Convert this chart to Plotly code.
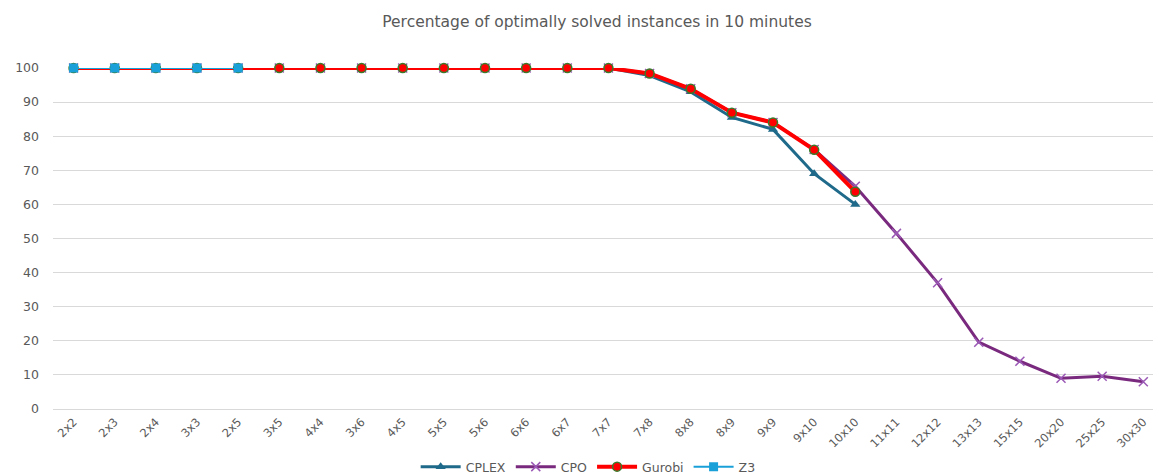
import plotly.graph_objects as go

cats = ["2x2", "2x3", "2x4", "3x3", "2x5", "3x5", "4x4", "3x6", "4x5", "5x5",
        "5x6", "6x6", "6x7", "7x7", "7x8", "8x8", "8x9", "9x9", "9x10", "10x10",
        "11x11", "12x12", "13x13", "15x15", "20x20", "25x25", "30x30"]

cplex = [100, 100, 100, 100, 100, 100, 100, 100, 100, 100, 100, 100, 100, 100,
         97.8, 93.0, 85.5, 82.0, 69.0, 60.0]
cpo = [100, 100, 100, 100, 100, 100, 100, 100, 100, 100, 100, 100, 100, 100,
       98.4, 93.9, 86.9, 84.0, 76.1, 65.3, 51.5, 37.0, 19.6, 14.0, 9.0, 9.6, 8.0]
gurobi = [100, 100, 100, 100, 100, 100, 100, 100, 100, 100, 100, 100, 100, 100,
          98.4, 93.9, 86.9, 84.0, 76.0, 63.7]
z3 = [100, 100, 100, 100, 100]

FONT = "DejaVu Sans, Verdana, sans-serif"
GRAY = "#595959"
W, H = 1153, 468  # page has an 8px body margin

fig = go.Figure()
fig.add_trace(go.Scatter(
    x=cats[:len(cplex)], y=cplex, name="CPLEX", mode="lines+markers",
    line=dict(color="#1F6A8A", width=3),
    marker=dict(symbol="triangle-up", size=9, color="#1F6A8A")))
fig.add_trace(go.Scatter(
    x=cats[:len(cpo)], y=cpo, name="CPO", mode="lines+markers",
    line=dict(color="#7A2A7E", width=3),
    marker=dict(symbol="x-thin", size=9, line=dict(color="#9B59B6", width=1.5), color="#7A2A7E")))
fig.add_trace(go.Scatter(
    x=cats[:len(gurobi)], y=gurobi, name="Gurobi", mode="lines+markers",
    line=dict(color="#FF0000", width=4),
    marker=dict(symbol="circle", size=9, color="#FF0000", line=dict(color="#3A7A2A", width=1.5))))
fig.add_trace(go.Scatter(
    x=cats[:len(z3)], y=z3, name="Z3", mode="lines+markers",
    line=dict(color="#1AA0D8", width=2),
    marker=dict(symbol="square", size=9, color="#1AA0D8")))

fig.update_layout(
    width=W, height=H,
    margin=dict(l=45, r=0, t=60, b=67, autoexpand=False),
    paper_bgcolor="white", plot_bgcolor="white",
    font=dict(family=FONT, color=GRAY, size=12),
    title=dict(text="Percentage of optimally solved instances in 10 minutes",
               x=0.491, xanchor="center", xref="paper",
               y=(H - 14) / H, yanchor="middle", yref="container",
               font=dict(size=15.5, color=GRAY, family=FONT)),
    showlegend=True,
    legend=dict(orientation="h", x=0.483, xanchor="center", xref="paper",
                y=(H - 459) / H, yanchor="middle", yref="container",
                font=dict(size=12.5, color=GRAY, family=FONT), itemwidth=40,
                traceorder="normal"),
)
fig.update_xaxes(
    type="category", categoryorder="array", categoryarray=cats,
    range=[-0.5, 26.43], tickangle=-45, showgrid=False,
    showline=False, zeroline=False, ticks="", automargin=False,
    ticklabelstandoff=3,
    tickfont=dict(size=11.5, color=GRAY, family=FONT))
fig.update_yaxes(
    range=[0, 100], dtick=10, showgrid=True, gridcolor="#D9D9D9", gridwidth=1,
    zeroline=True, zerolinecolor="#D9D9D9", zerolinewidth=1,
    showline=False, ticks="", ticklabelstandoff=13, automargin=False,
    tickfont=dict(size=12.5, color=GRAY, family=FONT))
for tr in fig.data:
    tr.cliponaxis = False

fig.write_html("out.html")
